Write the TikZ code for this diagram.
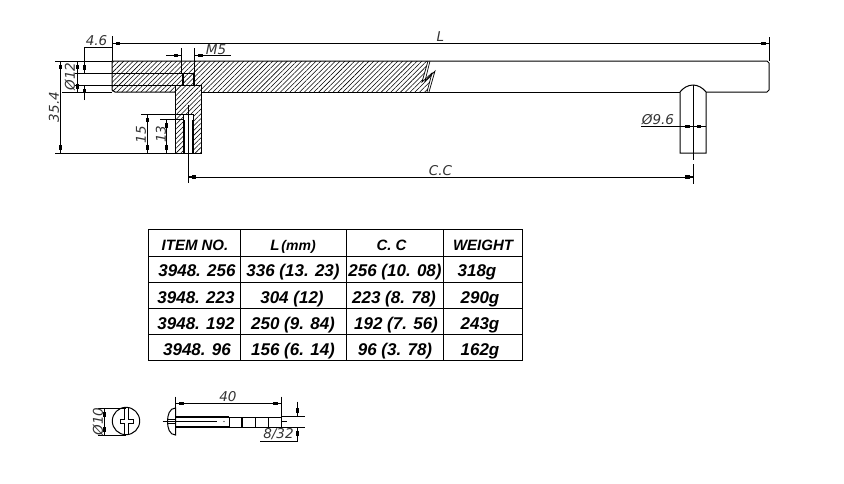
\documentclass[tikz,border=0pt]{standalone}
\usepackage{fontspec}
\setmainfont{Liberation Sans}
\newfontfamily\dimfont{DejaVu Sans}
\usetikzlibrary{arrows.meta,patterns.meta}

\begin{document}
\begin{tikzpicture}[x=1pt,y=-1pt,line width=1pt,>={Rectangle[length=4.5pt,width=3.6pt,sep=0pt]Rectangle[length=3.5pt,width=.7pt,sep=0pt]}]
\tikzstyle{dimtext}=[font=\dimfont\itshape\fontsize{13.5}{14}\selectfont,text=black!80,inner sep=0pt]
\tikzstyle{cell}=[font=\bfseries\itshape\fontsize{17}{18}\selectfont,inner sep=0pt,text height=12pt,text depth=0pt]
\tikzstyle{headcell}=[font=\bfseries\itshape\fontsize{15}{16}\selectfont,inner sep=0pt,text height=12pt,text depth=0pt]
\tikzstyle{hatched}=[pattern={Lines[angle=45,distance=3.4pt,line width=.55pt]}]
\tikzstyle{thin}=[line width=.7pt]
\useasboundingbox (0,0) rectangle (844,483);

\path[hatched] (112,61) -- (428,61) -- (422,82) -- (432,73) -- (427,92) -- (113,92) -- (112,90) -- cycle;
\draw (112,90) -- (112,61) -- (767,61) to[bend left=30] (769,63) -- (769,90) to[bend left=30] (767,92) -- (706,92);
\draw (680,92) -- (200,92);
\draw (175,92) -- (115,92) to[bend left=30] (112,90);
\draw[thin] (428,61) -- (422,82) -- (432,73) -- (427,92);
\draw[thin] (430,61) -- (425,81) -- (435,71) -- (429,92);
\draw (75,73) -- (194,73);
\draw (75,85) -- (175,85);
\draw[line width=1.6pt] (183,73) -- (183,85);
\draw[line width=1.2pt] (194,73) -- (194,85);

\draw[fill=white] (175,85) rectangle (201,153);
\path[hatched] (175,85) rectangle (201,153);
\draw[fill=white] (183,114) rectangle (193,153);
\draw[line width=1.6pt] (184,120) -- (184,153);
\draw[line width=1.6pt] (192.5,120) -- (192.5,153);
\draw (188,105) -- (188,183);

\draw (680,153) -- (680,92) .. controls (683,88) and (688,85) .. (693,85) .. controls (698,85) and (703,88) .. (706,92) -- (706,153) -- cycle;
\draw (693,85) -- (693,160);
\draw (693,164) -- (693,184);

\draw (112,36) -- (112,61);
\draw (769,37) -- (769,61);
\draw[<->] (112,43.5) -- (769,43.5);
\node[dimtext] (lenlabel) at (440.5,37) {L};

\draw (112,47) -- (84.5,47) -- (84.5,60);
\draw[->] (84.5,55) -- (84.5,73);
\draw[->] (84.5,100) -- (84.5,85);
\node[dimtext] (offsetlabel) at (96.5,41) {4.6};

\draw (55,61) -- (112,61);
\draw (55,153) -- (175,153);
\draw[<->] (60.5,61) -- (60.5,153);
\node[dimtext,rotate=90] (heightlabel) at (54,107) {35.4};
\draw[<->] (77.5,61) -- (77.5,92);
\draw (62,92) -- (112,92);
\node[dimtext,rotate=90] (barlabel) at (70,76.5) {Ø12};

\draw (141,114) -- (183,114);
\draw[<->] (147.5,114) -- (147.5,153);
\node[dimtext,rotate=90] (depthlabel) at (141,134.5) {15};
\draw (160,119.5) -- (183,119.5);
\draw[<->] (166.5,119.5) -- (166.5,153);
\node[dimtext,rotate=90] (holelabel) at (161,134) {13};

\draw (181.5,48) -- (181.5,73);
\draw (194.5,48) -- (194.5,73);
\draw[->] (166,55.5) -- (181.5,55.5);
\draw[->] (230.5,55.5) -- (194.5,55.5);
\node[dimtext] (threadlabel) at (216,49.5) {M5};

\draw[<->] (188,177) -- (693,177);
\node[dimtext] (centerlabel) at (440.5,171) {C.C};

\draw[->] (641,126.5) -- (693,126.5);
\draw[->] (706,126.5) -- (693,126.5);
\node[dimtext] (postlabel) at (658,120) {Ø9.6};

\draw (148.5,229.5) rectangle (522.5,360);
\foreach \yline in {256,282,308,334}
  \draw (148.5,\yline) -- (522.5,\yline);
\foreach \xline in {240.5,346.5,443.5}
  \draw (\xline,229.5) -- (\xline,360);

\node[headcell] (itemhead) at (195,244.5) {ITEM NO.};
\node[headcell] (lenhead) at (293,244.5) {L\hspace{2pt}{\fontsize{14}{15}\selectfont(mm)}};
\node[headcell] (cchead) at (391.5,244.5) {C. C};
\node[headcell] (weighthead) at (483,244.5) {WEIGHT};

\foreach \rowy/\rowid/\xa/\txta/\txtb/\txtc/\txtd/\xb/\xc/\xd in {
  270.5/a/197/3948. 256/336 (13. 23)/256 (10. 08)/318g/293/395/477,
  297/b/196/3948. 223/304 (12)/223 (8. 78)/290g/292/394/480,
  323/c/196/3948. 192/250 (9. 84)/192 (7. 56)/243g/293/396/480,
  349/d/197/3948. 96/156 (6. 14)/96 (3. 78)/162g/293/395/480}
{
  \node[cell] (item\rowid) at (\xa,\rowy) {\txta};
  \node[cell] (len\rowid) at (\xb,\rowy) {\txtb};
  \node[cell] (cc\rowid) at (\xc,\rowy) {\txtc};
  \node[cell] (weight\rowid) at (\xd,\rowy) {\txtd};
}

\draw (126,421) circle (13.7);
\draw (124,407.5) -- (124,419.5) -- (120,419.5) -- (120,423.5) -- (124,423.5) -- (124,434.5);
\draw (128.5,407.5) -- (128.5,419.5) -- (133,419.5) -- (133,423.5) -- (128.5,423.5) -- (128.5,434.5);
\draw (98,408.5) -- (126,408.5);
\draw (98,435) -- (126,435);
\draw[<->] (104.5,408.5) -- (104.5,435);
\node[dimtext,rotate=90] (headlabel) at (98,421.5) {Ø10};

\draw (175.5,408) to[out=180,in=90] (167.5,421.5) to[out=-90,in=180] (175.5,435) -- cycle;
\draw (162.5,421.5) -- (217,421.5);
\draw (281,421.5) -- (287,421.5);
\draw[line width=1.4pt] (175.5,417) -- (229,417);
\draw[line width=1.4pt] (175.5,427) -- (229,427);
\draw (168,419.5) -- (175.5,419.5);
\draw (168,423.5) -- (175.5,423.5);
\fill (224,421.5) circle (.6);
\foreach \xbox in {229,242.5,255.5,268.5}
  \draw (\xbox,417) rectangle +(12.7,10.3);

\draw (175.5,396.5) -- (175.5,416);
\draw (281,396.5) -- (281,416);
\draw[<->] (175.5,403.5) -- (281,403.5);
\node[dimtext] (lengthlabel) at (228,396.5) {40};

\draw (281,416) -- (305,416);
\draw (281,427.5) -- (305,427.5);
\draw[->] (297.5,401.5) -- (297.5,416);
\draw[->] (297.5,441) -- (297.5,427.5);
\draw (260,441) -- (297.5,441);
\node[dimtext] (pitchlabel) at (278.5,434.5) {8/32};
\end{tikzpicture}
\end{document}
